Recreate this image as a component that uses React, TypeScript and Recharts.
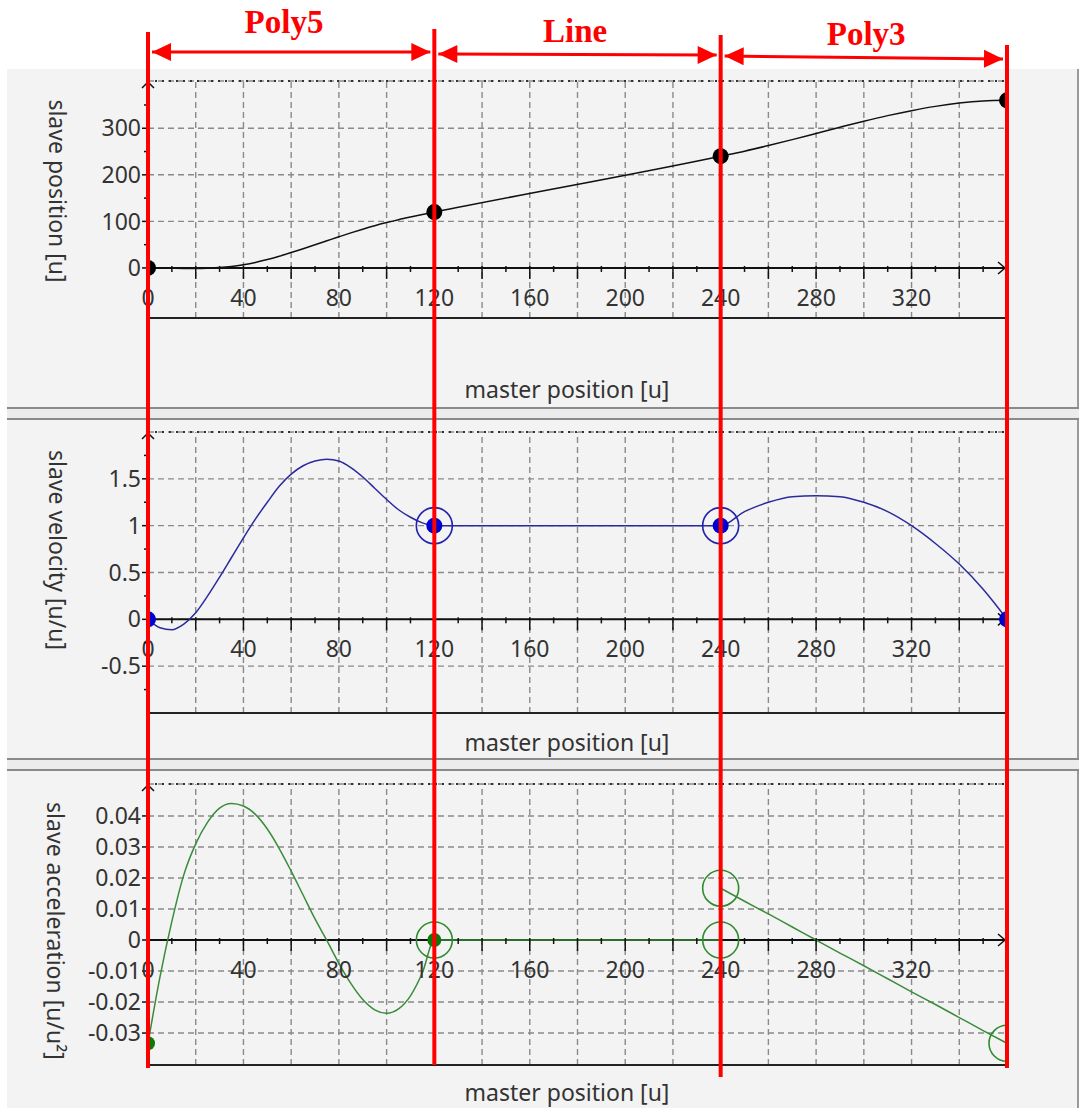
import React from "react"
import {
  ComposedChart,
  Line,
  Scatter,
  XAxis,
  YAxis,
  CartesianGrid,
  ReferenceLine,
  ReferenceDot,
} from "recharts"

// master position samples for each cam segment
const poly5Master = [0, 5, 10, 15, 20, 25, 30, 35, 40, 45, 50, 55, 60, 65, 70, 75, 80, 85, 90, 95, 100, 105, 110, 115, 120]
const lineMaster = [120, 240]
const poly3Master = [240, 250, 260, 270, 280, 290, 300, 310, 320, 330, 340, 350, 360]

// slave position [u]
const posPoly5 = [0, -0.2, -0.7, -1.1, -1.1, -0.5, 0.8, 3.2, 7.0, 11.9, 18.0, 25.0, 33.0, 41.3, 49.7, 58.3, 66.9, 75.3, 83.2, 90.6, 97.4, 103.7, 109.4, 114.8, 120]
const posPoly3 = [240, 250.8, 262.8, 275.6, 288.9, 302.2, 315.1, 327.1, 337.8, 347.0, 354.1, 358.6, 360]

// slave velocity [u/u]
const velPoly5 = [0, -0.09, -0.11, -0.05, 0.07, 0.25, 0.45, 0.66, 0.87, 1.07, 1.25, 1.42, 1.55, 1.64, 1.69, 1.71, 1.69, 1.62, 1.52, 1.4, 1.28, 1.17, 1.09, 1.03, 1.0]
const velPoly3 = [1.0, 1.15, 1.25, 1.31, 1.32, 1.31, 1.25, 1.15, 1.0, 0.81, 0.59, 0.32, 0]

// slave acceleration [u/u²]
const accPoly5 = [-0.0333, -0.012, 0.006, 0.021, 0.031, 0.038, 0.0425, 0.044, 0.0432, 0.0405, 0.0358, 0.0295, 0.0222, 0.0145, 0.0068, -0.0002, -0.0075, -0.014, -0.0192, -0.0225, -0.0236, -0.0222, -0.018, -0.0105, 0]
const accLine = [0, 0]
const accPoly3 = [0.0167, 0.0125, 0.0084, 0.0042, 0, -0.0042, -0.0083, -0.0125, -0.0167, -0.0208, -0.025, -0.0292, -0.0333]

// segment boundary markers
const knotMaster = [0, 120, 240, 360]
const posKnots = [0, 120, 240, 360]
const velKnots = [0, 1, 1, 0]
const velRingMaster = [120, 240]
const velRings = [1, 1]
const accKnotMaster = [0, 120]
const accKnots = [-0.0333, 0]
const accRingMaster = [120, 240, 240, 360]
const accRings = [0, 0, 0.0167, -0.0333]

// axes
const gridMaster = [20, 40, 60, 80, 100, 120, 140, 160, 180, 200, 220, 240, 260, 280, 300, 320, 340]
const labelMaster = [0, 40, 80, 120, 160, 200, 240, 280, 320]
const minorMaster = [0, 10, 20, 30, 40, 50, 60, 70, 80, 90, 100, 110, 120, 130, 140, 150, 160, 170, 180, 190, 200, 210, 220, 230, 240, 250, 260, 270, 280, 290, 300, 310, 320, 330, 340, 350]
const posTicks = [0, 100, 200, 300]
const posMinor = [50, 150, 250, 350]
const velTicks = [-0.5, 0, 0.5, 1, 1.5]
const velMinor = [-0.75, -0.25, 0.25, 0.75, 1.25, 1.75]
const accTicks = [-0.03, -0.02, -0.01, 0, 0.01, 0.02, 0.03, 0.04]

// red annotation
const segNames = ["Poly5", "Line", "Poly3"]
const segLabelMaster = [57, 179, 301]
const segLabelBase = [33, 42, 45]
const arrowFrom = [0, 120, 240]
const arrowTo = [120, 240, 360]
const arrowYFrom = [52, 54, 56]
const arrowYTo = [52, 55, 59]
const redMaster = [0, 120, 240, 360]
const redTop = [32, 29, 35, 45]
const redBottom = [1068, 1065, 1077, 1068]

const FONT = "'Noto Sans', sans-serif"
const GRID = "#8a8a8a"

type Pt = { x: number; y: number }
const toPts = (xs: number[], ys: number[]): Pt[] => xs.map((x, i) => ({ x, y: ys[i] }))

const posData = [...toPts(poly5Master, posPoly5), ...toPts(poly3Master, posPoly3)]
const velData = [...toPts(poly5Master, velPoly5), ...toPts(poly3Master, velPoly3)]
// acceleration jumps at 240, so it is drawn as two pieces
const accDataA = [...toPts(poly5Master, accPoly5), ...toPts(lineMaster, accLine).slice(1)]
const accDataB = toPts(poly3Master, accPoly3)

const xTick = (v: number) => (p: any) => (
  <g>
    <line x1={p.cx} y1={p.cy - 2} x2={p.cx} y2={p.cy + (v % 20 === 0 ? 11 : 4)} stroke="#111" strokeWidth={1.5} />
    {labelMaster.includes(v) && (
      <text x={p.cx} y={p.cy + 29} textAnchor="middle" dominantBaseline="central" fill="#333" fontSize={23} fontFamily={FONT}>
        {v}
      </text>
    )}
  </g>
)

const yMinorTick = (p: any) => <line x1={p.cx - 4} y1={p.cy} x2={p.cx} y2={p.cy} stroke="#111" strokeWidth={1.5} />

const rightArrow = (p: any) => (
  <polyline points={`${p.cx - 9},${p.cy - 6} ${p.cx - 2},${p.cy} ${p.cx - 9},${p.cy + 6}`} fill="none" stroke="#111" strokeWidth={1.5} />
)

const upArrow = (p: any) => (
  <polyline points={`${p.cx - 6},${p.cy + 7} ${p.cx},${p.cy + 1} ${p.cx + 6},${p.cy + 7}`} fill="none" stroke="#111" strokeWidth={1.5} />
)

const arrowShape = (p: any) => {
  const { x1, y1, x2, y2 } = p
  const len = Math.hypot(x2 - x1, y2 - y1)
  const ux = (x2 - x1) / len
  const uy = (y2 - y1) / len
  const ax = x1 + ux * 4, ay = y1 + uy * 4
  const bx = x2 - ux * 4, by = y2 - uy * 4
  const h = 19, w = 9
  const head = (tx: number, ty: number, dir: number) => {
    const baseX = tx - dir * ux * h
    const baseY = ty - dir * uy * h
    return `${tx},${ty} ${baseX - uy * w},${baseY + ux * w} ${baseX + uy * w},${baseY - ux * w}`
  }
  return (
    <g>
      <line x1={ax} y1={ay} x2={bx} y2={by} stroke="#ff0000" strokeWidth={3} />
      <polygon points={head(ax, ay, -1)} fill="#ff0000" />
      <polygon points={head(bx, by, 1)} fill="#ff0000" />
    </g>
  )
}

interface PanelProps {
  top: number
  height: number
  marginTop: number
  marginBottom: number
  domain: [number, number]
  ticks: number[]
  minorTicks: number[]
  series: Pt[][]
  dots: Pt[]
  rings: Pt[]
  lineColor: string
  dotColor: string
  ringColor: string
  dotR: number
}

function Panel(props: PanelProps) {
  const { top, height, marginTop, marginBottom, domain, ticks, minorTicks, series, dots, rings, lineColor, dotColor, ringColor, dotR } = props
  return (
    <div style={{ position: "absolute", left: 7, top, width: 1072, height }}>
      <ComposedChart width={1072} height={height} margin={{ top: marginTop, right: 72, bottom: marginBottom, left: 61 }}>
        <CartesianGrid stroke={GRID} strokeDasharray="6 4" strokeWidth={1.4} vertical={false} />
        <XAxis
          type="number"
          dataKey="x"
          domain={[0, 360]}
          ticks={gridMaster}
          allowDataOverflow
          height={0}
          tick={false}
          tickLine={false}
          axisLine={false}
        />
        <YAxis
          type="number"
          domain={domain}
          ticks={ticks}
          interval={0}
          allowDataOverflow
          width={80}
          tickSize={6}
          tickMargin={1}
          tickLine={{ stroke: "#111", strokeWidth: 1.5 }}
          axisLine={{ stroke: "#111", strokeWidth: 2 }}
          tick={{ fill: "#333", fontSize: 23, fontFamily: FONT }}
        />
        {gridMaster.map((v) => (
          <ReferenceLine key={"gx" + v} x={v} stroke={GRID} strokeWidth={1.4} strokeDasharray="6 4" />
        ))}
        <ReferenceLine y={domain[1]} stroke="#333" strokeWidth={2} strokeDasharray="2 5" />
        <ReferenceLine y={domain[0]} stroke="#222" strokeWidth={2} />
        <ReferenceLine x={360} stroke="#222" strokeWidth={2} />
        <ReferenceLine y={0} stroke="#111" strokeWidth={2} />
        {minorMaster.map((v) => (
          <ReferenceDot key={"xt" + v} x={v} y={0} shape={xTick(v)} />
        ))}
        {minorTicks.map((v) => (
          <ReferenceDot key={"yt" + v} x={0} y={v} shape={yMinorTick} />
        ))}
        <ReferenceDot x={360} y={0} shape={rightArrow} />
        <ReferenceDot x={0} y={domain[1]} shape={upArrow} />
        {series.map((d, i) => (
          <Line key={"s" + i} data={d} dataKey="y" type="monotoneX" stroke={lineColor} strokeWidth={1.5} dot={false} isAnimationActive={false} />
        ))}
        <Scatter
          data={dots}
          dataKey="y"
          isAnimationActive={false}
          shape={(p: any) => <circle cx={p.cx} cy={p.cy} r={dotR} fill={dotColor} />}
        />
        {rings.length > 0 && (
          <Scatter
            data={rings}
            dataKey="y"
            isAnimationActive={false}
            shape={(p: any) => <circle cx={p.cx} cy={p.cy} r={18} fill="none" stroke={ringColor} strokeWidth={1.6} />}
          />
        )}
      </ComposedChart>
    </div>
  )
}

const titleStyle: React.CSSProperties = {
  position: "absolute",
  fontFamily: FONT,
  fontSize: 23,
  color: "#333",
  whiteSpace: "nowrap",
}

function XTitle({ y }: { y: number }) {
  return <div style={{ ...titleStyle, left: 567, top: y, transform: "translate(-50%, -50%)" }}>master position [u]</div>
}

function YTitle({ x, y, text }: { x: number; y: number; text: string }) {
  return <div style={{ ...titleStyle, left: x, top: y, transform: "translate(-50%, -50%) rotate(90deg)" }}>{text}</div>
}

export default function App() {
  const band = (top: number) => (
    <div style={{ position: "absolute", left: 7, top, width: 1072, height: 13, background: "#ececec", borderTop: "2px solid #8a8a8a", borderBottom: "2px solid #8a8a8a", boxSizing: "border-box" }} />
  )
  return (
    <div style={{ position: "absolute", left: 0, top: 0, width: 1082, height: 1108, background: "#fff", overflow: "hidden" }}>
      <div style={{ position: "absolute", left: 7, top: 69, width: 1072, height: 1039, background: "#f3f3f3", borderRight: "2px solid #9a9a9a", boxSizing: "border-box" }} />
      {band(407)}
      {band(758)}

      <Panel
        top={69}
        height={339}
        marginTop={12}
        marginBottom={90}
        domain={[-107.5, 401.5]}
        ticks={posTicks}
        minorTicks={posMinor}
        series={[posData]}
        dots={toPts(knotMaster, posKnots)}
        rings={[]}
        lineColor="#111"
        dotColor="#000"
        ringColor="#000"
        dotR={8}
      />
      <Panel
        top={419}
        height={340}
        marginTop={13}
        marginBottom={46}
        domain={[-1, 2]}
        ticks={velTicks}
        minorTicks={velMinor}
        series={[velData]}
        dots={toPts(knotMaster, velKnots)}
        rings={toPts(velRingMaster, velRings)}
        lineColor="#2a2a9e"
        dotColor="#0000d0"
        ringColor="#2222b0"
        dotR={8}
      />
      <Panel
        top={770}
        height={338}
        marginTop={14}
        marginBottom={43}
        domain={[-0.0403, 0.0503]}
        ticks={accTicks}
        minorTicks={[]}
        series={[accDataA, accDataB]}
        dots={toPts(accKnotMaster, accKnots)}
        rings={toPts(accRingMaster, accRings)}
        lineColor="#3a8c3a"
        dotColor="#0b7a0b"
        ringColor="#2e8b2e"
        dotR={7}
      />

      <XTitle y={389} />
      <XTitle y={742} />
      <XTitle y={1092} />
      <YTitle x={58} y={191} text="slave position [u]" />
      <YTitle x={58} y={550} text="slave velocity [u/u]" />
      <YTitle x={56} y={931} text="slave acceleration [u/u²]" />

      <div style={{ position: "absolute", left: 0, top: 0, width: 1082, height: 1108, pointerEvents: "none" }}>
        <ComposedChart width={1082} height={1108} margin={{ top: 0, right: 75, bottom: 0, left: 148 }}>
          <XAxis type="number" dataKey="x" domain={[0, 360]} hide />
          <YAxis type="number" domain={[0, 1108]} reversed hide />
          {redMaster.map((m, i) => (
            <Line
              key={"red" + m}
              data={[{ x: m, y: redTop[i] }, { x: m, y: redBottom[i] }]}
              dataKey="y"
              type="linear"
              stroke="#ff0000"
              strokeWidth={4}
              dot={false}
              isAnimationActive={false}
            />
          ))}
          {arrowFrom.map((m, i) => (
            <ReferenceLine
              key={"arrow" + m}
              segment={[{ x: m, y: arrowYFrom[i] }, { x: arrowTo[i], y: arrowYTo[i] }]}
              shape={arrowShape}
            />
          ))}
          {segNames.map((name, i) => (
            <ReferenceDot
              key={name}
              x={segLabelMaster[i]}
              y={segLabelBase[i]}
              shape={(p: any) => (
                <text x={p.cx} y={p.cy} textAnchor="middle" fill="#ff0000" fontSize={33} fontWeight="bold" fontFamily="'Liberation Serif', serif">
                  {name}
                </text>
              )}
            />
          ))}
        </ComposedChart>
      </div>
    </div>
  )
}
